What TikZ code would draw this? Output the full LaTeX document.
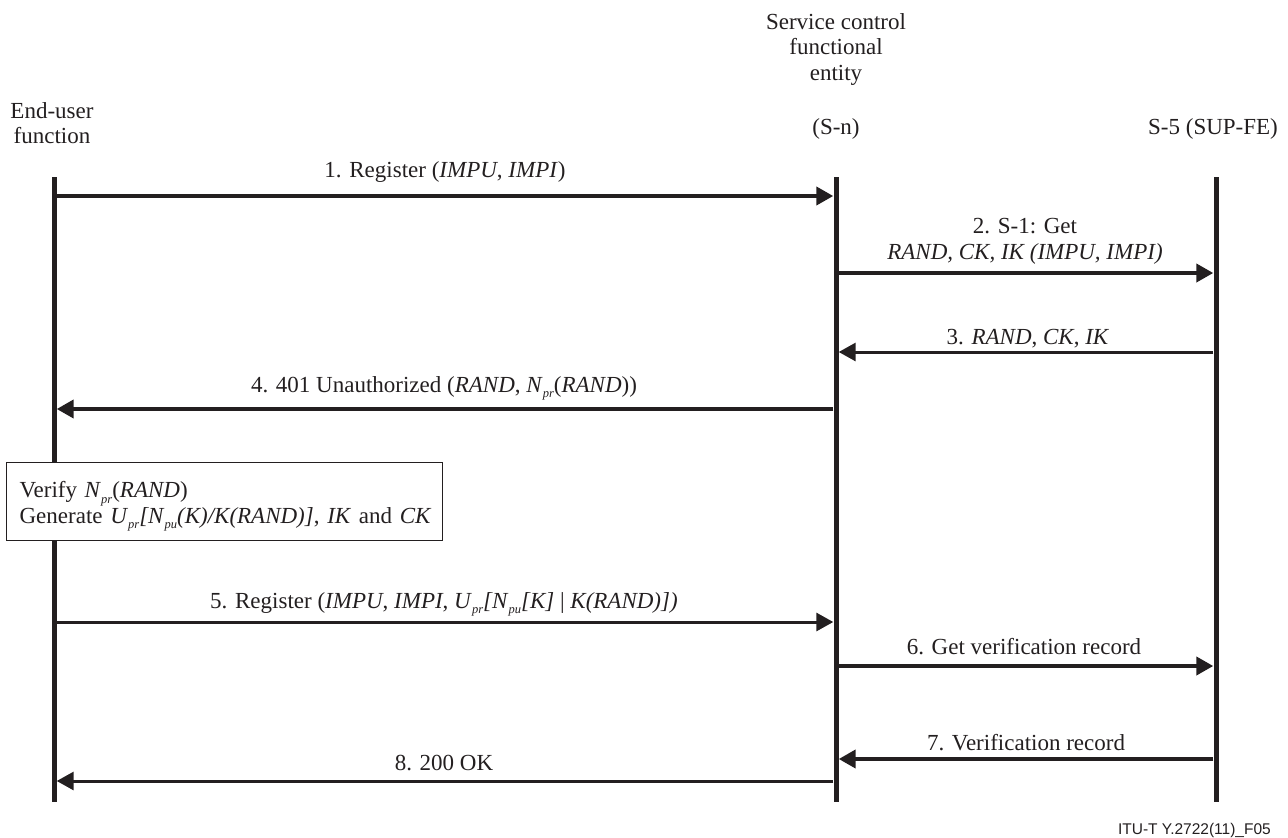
\documentclass[tikz,border=0pt]{standalone}
\usepackage{fontspec}
\setmainfont{Liberation Serif}
\setsansfont{Liberation Sans}
\usetikzlibrary{arrows.meta}
\definecolor{ink}{RGB}{35,31,32}
% small lowered italic index, as in N_pr
\newcommand\idx[1]{\raisebox{-0.22em}{\fontsize{12.5bp}{12.5bp}\selectfont\textit{#1}}}
\begin{document}
\begin{tikzpicture}[x=1bp,y=-1bp,
  txt/.style={font=\fontsize{23bp}{25.5bp}\selectfont, text=ink, inner sep=0pt},
  lifeline/.style={rectangle, fill=ink, draw=none, inner sep=0pt,
    minimum width=5bp, minimum height=625bp},
  msgthick/.style={draw=ink, line width=4bp, -{Triangle[length=17bp,width=18bp]}},
  msgthin/.style={draw=ink, line width=3bp, -{Triangle[length=17bp,width=18bp]}},
  notebox/.style={txt, draw=ink, line width=1.2bp, fill=white, align=left,
    text width=410bp, inner xsep=13bp, minimum height=78bp}
]
\useasboundingbox (0,0) rectangle (1288,838);

% participants
\node[txt, align=center, anchor=north] (hEU) at (52,102.3) {End-user\\function};
\node[txt, align=center, anchor=north] (hSC) at (836,13.3) {Service control\\functional\\entity};
\node[txt, anchor=base] (hSN) at (836,134) {(S-n)};
\node[txt, anchor=base] (hS5) at (1213,134) {S-5 (SUP-FE)};

% lifelines
\node[lifeline] (EU) at (54,489.5) {};
\node[lifeline] (SN) at (836,489.5) {};
\node[lifeline] (S5) at (1216,489.5) {};

% message levels
\coordinate (m1) at (0,196);
\coordinate (m2) at (0,273);
\coordinate (m3) at (0,352);
\coordinate (m4) at (0,409);
\coordinate (m5) at (0,622);
\coordinate (m6) at (0,666);
\coordinate (m7) at (0,759);
\coordinate (m8) at (0,781);

% messages
\draw[msgthick] (EU.east |- m1) -- (SN.west |- m1);
\draw[msgthick] (SN.east |- m2) -- (S5.west |- m2);
\draw[msgthin]  (S5.west |- m3) -- (SN.east |- m3);
\draw[msgthick] (SN.west |- m4) -- (EU.east |- m4);
\draw[msgthin]  (EU.east |- m5) -- (SN.west |- m5);
\draw[msgthick] (SN.east |- m6) -- (S5.west |- m6);
\draw[msgthick] (S5.west |- m7) -- (SN.east |- m7);
\draw[msgthin]  (SN.west |- m8) -- (EU.east |- m8);

% message labels
\node[txt, anchor=base] (l1) at (445,177) {1. Register (\textit{IMPU}, \textit{IMPI})};
\node[txt, align=center, anchor=north] (l2) at (1025,218.5)
  {2. S-1: Get\\\textit{RAND, CK, IK (IMPU, IMPI)}};
\node[txt, anchor=base] (l3) at (1028,344) {3. \textit{RAND}, \textit{CK}, \textit{IK}};
\node[txt, anchor=base] (l4) at (444,392)
  {4. 401 Unauthorized (\textit{RAND}, \textit{N}\idx{pr}(\textit{RAND}))};
\node[txt, anchor=base] (l5) at (444,608)
  {5. Register (\textit{IMPU}, \textit{IMPI}, \textit{U}\idx{pr}\textit{[N}\idx{pu}\textit{[K]} | \textit{K(RAND)])}};
\node[txt, anchor=base] (l6) at (1024,654) {6. Get verification record};
\node[txt, anchor=base] (l7) at (1026,750) {7. Verification record};
\node[txt, anchor=base] (l8) at (444,770) {8. 200 OK};

% local action of the end-user function (strut lowers the two lines a little)
\node[notebox, anchor=north west] (act) at (6,462)
  {\rule{0pt}{26bp}Verify \textit{N}\idx{pr}(\textit{RAND})\\
   \mbox{Generate \textit{U}\idx{pr}\textit{[N}\idx{pu}\textit{(K)/K(RAND)]}, \textit{IK} and \textit{CK}}};

% figure reference
\node[font=\sffamily\fontsize{15.5bp}{18bp}\selectfont, text=ink, inner sep=0pt, anchor=base east]
  (ref) at (1271,834) {ITU-T Y.2722(11)\_F05};
\end{tikzpicture}
\end{document}
